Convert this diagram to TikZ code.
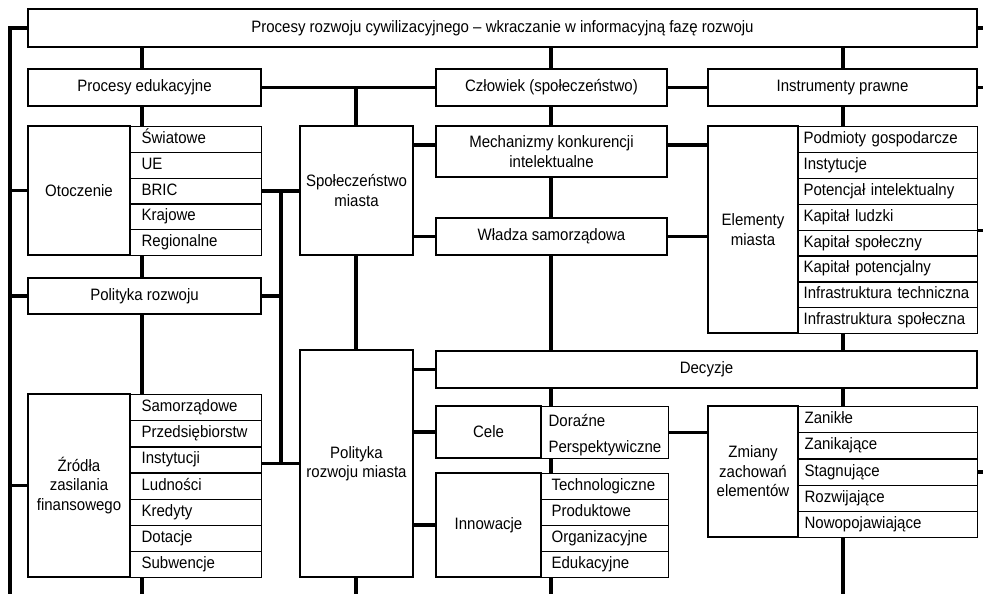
\documentclass[tikz,border=0pt]{standalone}
\usepackage{fontspec}
\setmainfont{Liberation Sans}[FakeStretch=0.91]
\hyphenpenalty=10000
\exhyphenpenalty=10000
\begin{document}
\begin{tikzpicture}[x=1pt,y=-1pt]

	%DEFINICJE
	\tikzstyle{every node}=[font=\fontsize{16.5}{19.5}\selectfont]
	\tikzstyle{blok} = [draw, align=center, line width=1.2pt, inner sep=1pt]
	\tikzstyle{pole} = [draw, anchor=north west, align=left, line width=1.2pt, inner ysep=0pt, text height=11.5pt, text depth=3.5pt]
	\tikzstyle{poleOt} = [pole, inner xsep=11pt, text width=109pt, minimum height=25.8pt]
	\tikzstyle{poleZr} = [pole, inner xsep=11pt, text width=109pt, minimum height=26.14pt]
	\tikzstyle{poleEl} = [pole, inner xsep=5pt, text width=169pt, minimum height=25.9pt]
	\tikzstyle{poleZm} = [pole, inner xsep=6pt, text width=167pt, minimum height=26.2pt]
	\tikzstyle{poleIn} = [pole, inner xsep=10pt, text width=107pt, minimum height=26pt]
	\tikzstyle{linia} = [line width=3.4pt]

	\useasboundingbox (0,0) rectangle (983,594);
	\coordinate (L) at (10,594);
	\coordinate (D) at (0,594);
	\coordinate (R) at (983,0);
	\coordinate (K1) at (142,0);
	\coordinate (K2) at (281,0);
	\coordinate (K3) at (356,0);
	\coordinate (K4) at (551,0);
	\coordinate (K5) at (843,0);

	%BLOKI
	\draw(502.5,28) node[blok, minimum width=949pt, minimum height=38pt](1){Procesy rozwoju cywilizacyjnego -- wkraczanie w informacyjną fazę rozwoju};
	\draw(144.5,87.5) node[blok, minimum width=233pt, minimum height=37pt](2){Procesy edukacyjne};
	\draw(551.5,87.5) node[blok, minimum width=231pt, minimum height=37pt](3){Człowiek (społeczeństwo)};
	\draw(842.5,87.5) node[blok, minimum width=269pt, minimum height=37pt](4){Instrumenty prawne};

	\draw(79,190.5) node[blok, minimum width=102pt, minimum height=129pt](5){Otoczenie};
	\draw(130,126) node[poleOt](5a){Światowe};
	\draw(130,151.8) node[poleOt](5b){UE};
	\draw(130,177.6) node[poleOt](5c){BRIC};
	\draw(130,203.4) node[poleOt](5d){Krajowe};
	\draw(130,229.2) node[poleOt](5e){Regionalne};

	\draw(356.5,190.5) node[blok, minimum width=113pt, minimum height=129pt](6){Społeczeństwo\\miasta};
	\draw(551.5,151.5) node[blok, minimum width=231pt, minimum height=51pt](7){Mechanizmy konkurencji\\intelektualne};
	\draw(551.5,236.5) node[blok, minimum width=231pt, minimum height=37pt](8){Władza samorządowa};

	\draw(753,229.5) node[blok, minimum width=90pt, minimum height=207pt](9){Elementy\\miasta};
	\draw(798,126) node[poleEl](9a){Podmioty gospodarcze};
	\draw(798,151.9) node[poleEl](9b){Instytucje};
	\draw(798,177.8) node[poleEl](9c){Potencjał intelektualny};
	\draw(798,203.6) node[poleEl](9d){Kapitał ludzki};
	\draw(798,229.5) node[poleEl](9e){Kapitał społeczny};
	\draw(798,255.4) node[poleEl](9f){Kapitał potencjalny};
	\draw(798,281.3) node[poleEl](9g){Infrastruktura~techniczna};
	\draw(798,307.1) node[poleEl](9h){Infrastruktura~społeczna};

	\draw(144.5,296) node[blok, minimum width=233pt, minimum height=36pt](10){Polityka rozwoju};

	\draw(79,485.5) node[blok, minimum width=102pt, minimum height=183pt](11){Źródła\\zasilania\\finansowego};
	\draw(130,394) node[poleZr](11a){Samorządowe};
	\draw(130,420.1) node[poleZr](11b){Przedsiębiorstw};
	\draw(130,446.3) node[poleZr](11c){Instytucji};
	\draw(130,472.4) node[poleZr](11d){Ludności};
	\draw(130,498.6) node[poleZr](11e){Kredyty};
	\draw(130,524.7) node[poleZr](11f){Dotacje};
	\draw(130,550.9) node[poleZr](11g){Subwencje};

	\draw(356.5,463.5) node[blok, minimum width=113pt, minimum height=227pt](12){Polityka\\rozwoju miasta};
	\draw(706.5,369.5) node[blok, minimum width=541pt, minimum height=37pt](13){Decyzje};

	\draw(488.5,432) node[blok, minimum width=105pt, minimum height=52pt](14){Cele};
	\draw(541,406) node[pole, inner xsep=7pt, text width=113pt, minimum height=52pt, text depth=23pt](14s){Doraźne\\[6.5pt]Perspektywiczne};

	\draw(488.5,525) node[blok, minimum width=105pt, minimum height=104pt](15){Innowacje};
	\draw(541,473) node[poleIn](15a){Technologiczne};
	\draw(541,499) node[poleIn](15b){Produktowe};
	\draw(541,525) node[poleIn](15c){Organizacyjne};
	\draw(541,551) node[poleIn](15d){Edukacyjne};

	\draw(753,471.5) node[blok, minimum width=90pt, minimum height=131pt](16){Zmiany\\zachowań\\elementów};
	\draw(798,406) node[poleZm](16a){Zanikłe};
	\draw(798,432.2) node[poleZm](16b){Zanikające};
	\draw(798,458.4) node[poleZm](16c){Stagnujące};
	\draw(798,484.6) node[poleZm](16d){Rozwijające};
	\draw(798,510.8) node[poleZm](16e){Nowopojawiające};

	%LINIE
	\draw [linia] (1.west) -| (L);
	\draw [linia] (5.west) -- (5.west -| L);
	\draw [linia] (10.west) -- (10.west -| L);
	\draw [linia] (11.west) -- (11.west -| L);

	\draw [linia] (K1 |- 1.south) -- (K1 |- 2.north);
	\draw [linia] (K1 |- 2.south) -- (K1 |- 5a.north);
	\draw [linia] (K1 |- 5e.south) -- (K1 |- 10.north);
	\draw [linia] (K1 |- 10.south) -- (K1 |- 11a.north);
	\draw [linia] (K1 |- 11g.south) -- (K1 |- D);

	\draw [linia] (5c.east) -- (5c.east -| 6.west);
	\draw [linia] (10.east) -- (10.east -| K2);
	\draw [linia] (12.west -| 11c.east) -- (12.west);
	\draw [linia] (K2 |- 5c.east) -- (K2 |- 12.west);

	\draw [linia] (2.east) -- (3.west);
	\draw [linia] (3.east) -- (4.west);
	\draw [linia] (K3 |- 2.east) -- (K3 |- 6.north);
	\draw [linia] (K3 |- 6.south) -- (K3 |- 12.north);
	\draw [linia] (K3 |- 12.south) -- (K3 |- D);

	\draw [linia] (K4 |- 1.south) -- (K4 |- 3.north);
	\draw [linia] (K4 |- 3.south) -- (K4 |- 7.north);
	\draw [linia] (K4 |- 7.south) -- (K4 |- 8.north);
	\draw [linia] (K4 |- 8.south) -- (K4 |- 13.north);
	\draw [linia] (K4 |- 13.south) -- (K4 |- 14s.north);
	\draw [linia] (K4 |- 14s.south) -- (K4 |- 15a.north);
	\draw [linia] (K4 |- 15d.south) -- (K4 |- D);

	\draw [linia] (K5 |- 1.south) -- (K5 |- 4.north);
	\draw [linia] (K5 |- 4.south) -- (K5 |- 9a.north);
	\draw [linia] (K5 |- 9h.south) -- (K5 |- 13.north);
	\draw [linia] (K5 |- 13.south) -- (K5 |- 16a.north);
	\draw [linia] (K5 |- 16e.south) -- (K5 |- D);

	\draw [linia] ([yshift=6.5pt]7.west -| 6.east) -- ([yshift=6.5pt]7.west);
	\draw [linia] (8.west -| 6.east) -- (8.west);
	\draw [linia] ([yshift=6.5pt]7.east) -- ([yshift=6.5pt]7.east -| 9.west);
	\draw [linia] (8.east) -- (8.east -| 9.west);

	\draw [linia] (13.west -| 12.east) -- (13.west);
	\draw [linia] (14.west -| 12.east) -- (14.west);
	\draw [linia] (15.west -| 12.east) -- (15.west);
	\draw [linia] (14s.east) -- (14s.east -| 16.west);

	\draw [linia] (1.east) -- (1.east -| R);
	\draw [linia] (4.east) -- (4.east -| R);
	\draw [linia] (9d.south east) -- (9d.south east -| R);
	\draw [linia] (16c.east) -- (16c.east -| R);
\end{tikzpicture}
\end{document}
